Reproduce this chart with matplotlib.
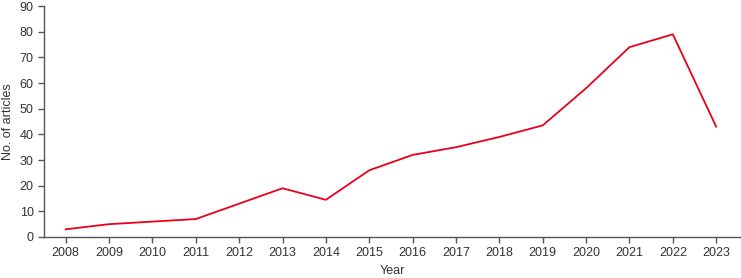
import matplotlib
matplotlib.use("Agg")
import matplotlib.pyplot as plt

years = [2008, 2009, 2010, 2011, 2012, 2013, 2014, 2015, 2016, 2017, 2018, 2019, 2020, 2021, 2022, 2023]
articles = [3, 5, 6, 7, 13, 19, 14.5, 26, 32, 35, 39, 43.5, 58, 74, 79, 43]
y_ticks = [0, 10, 20, 30, 40, 50, 60, 70, 80, 90]

plt.rcParams['font.family'] = ['Liberation Sans', 'DejaVu Sans']

fig = plt.figure(figsize=(7.41, 2.78), dpi=100)
ax = fig.add_axes([0.0594, 0.1475, 0.9393, 0.8305])

ax.plot(years, articles, color="#e8001c", linewidth=1.3)

ax.set_xlim(2007.5, 2023.55)
ax.set_ylim(0, 90)
ax.set_xticks(years)
ax.set_xticklabels([str(y) for y in years])
ax.set_yticks(y_ticks)

for s in ["top", "right"]:
    ax.spines[s].set_visible(False)
for s in ["left", "bottom"]:
    ax.spines[s].set_color("#555555")
    ax.spines[s].set_linewidth(1.0)

ax.tick_params(axis="both", colors="#555555", labelcolor="#333333", labelsize=9, length=4, width=1.0)
ax.set_xlabel("Year", fontsize=9, color="#333333", labelpad=4)
ax.set_ylabel("No. of articles", fontsize=9, color="#333333", labelpad=4)

fig.savefig("out.png", dpi=100)
